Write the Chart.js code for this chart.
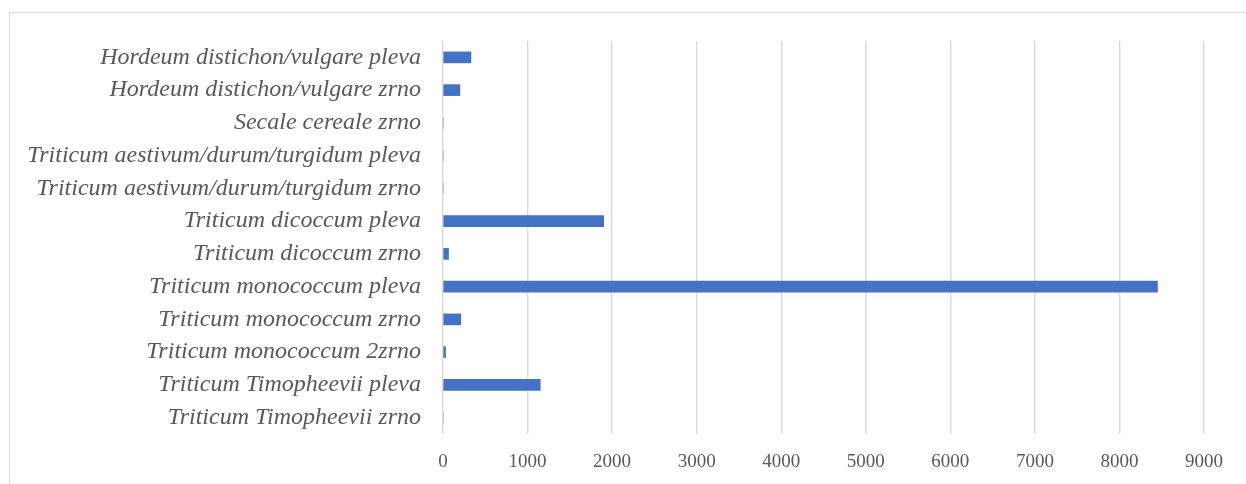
<!DOCTYPE html>
<html>
<head>
<meta charset="utf-8">
<script src="https://cdn.jsdelivr.net/npm/chart.js@4"></script>
<style>
  html, body { margin: 0; padding: 0; background: #ffffff; }
  #wrap { position: relative; width: 1246px; height: 484px; overflow: hidden; }
  #frame { position: absolute; left: 9px; top: 12px; width: 1300px; height: 500px;
           border-top: 1px solid #d9d9d9; border-left: 1px solid #d9d9d9; box-sizing: border-box; }
  canvas { position: absolute; left: 0; top: 0; }
</style>
</head>
<body>
<div id="wrap">
  <div id="frame"></div>
  <canvas id="c" width="1246" height="484"></canvas>
</div>
<script>
// Taxa and parts, listed top to bottom
const categories = [
  'Hordeum distichon/vulgare pleva',
  'Hordeum distichon/vulgare zrno',
  'Secale cereale zrno',
  'Triticum aestivum/durum/turgidum pleva',
  'Triticum aestivum/durum/turgidum zrno',
  'Triticum dicoccum pleva',
  'Triticum dicoccum zrno',
  'Triticum monococcum pleva',
  'Triticum monococcum zrno',
  'Triticum monococcum 2zrno',
  'Triticum Timopheevii pleva',
  'Triticum Timopheevii zrno'
];
const counts = [330, 200, 0, 0, 0, 1900, 65, 8450, 210, 30, 1150, 0];
const xTicks = [0, 1000, 2000, 3000, 4000, 5000, 6000, 7000, 8000, 9000];

const LEFT_AXIS_X = 443, RIGHT_X = 1204, TOP_Y = 41, BOTTOM_Y = 434;

new Chart(document.getElementById('c'), {
  type: 'bar',
  data: {
    labels: categories,
    datasets: [{
      data: counts,
      backgroundColor: '#4472C4',
      borderWidth: 0,
      barThickness: 11
    }]
  },
  options: {
    indexAxis: 'y',
    responsive: false,
    animation: false,
    layout: { padding: { left: 0, right: 1246 - RIGHT_X, top: TOP_Y, bottom: 0 } },
    plugins: { legend: { display: false }, tooltip: { enabled: false } },
    scales: {
      x: {
        min: 0, max: 9000,
        afterBuildTicks: s => { s.ticks = xTicks.map(v => ({ value: v })); },
        afterFit: s => { s.height = 484 - BOTTOM_Y; },
        grid: { color: '#d9d9d9', lineWidth: 1.4, drawTicks: false },
        border: { display: false },
        ticks: {
          color: '#595959',
          padding: 17,
          callback: v => String(v),
          font: { family: '"Liberation Serif", "Times New Roman", serif', size: 19 }
        }
      },
      y: {
        afterFit: s => { s.width = LEFT_AXIS_X; },
        grid: { display: false, drawTicks: false },
        border: { display: false },
        ticks: {
          color: '#595959',
          padding: 22,
          autoSkip: false,
          font: { family: '"Liberation Serif", "Times New Roman", serif', size: 24, style: 'italic' }
        }
      }
    }
  }
});
</script>
</body>
</html>
